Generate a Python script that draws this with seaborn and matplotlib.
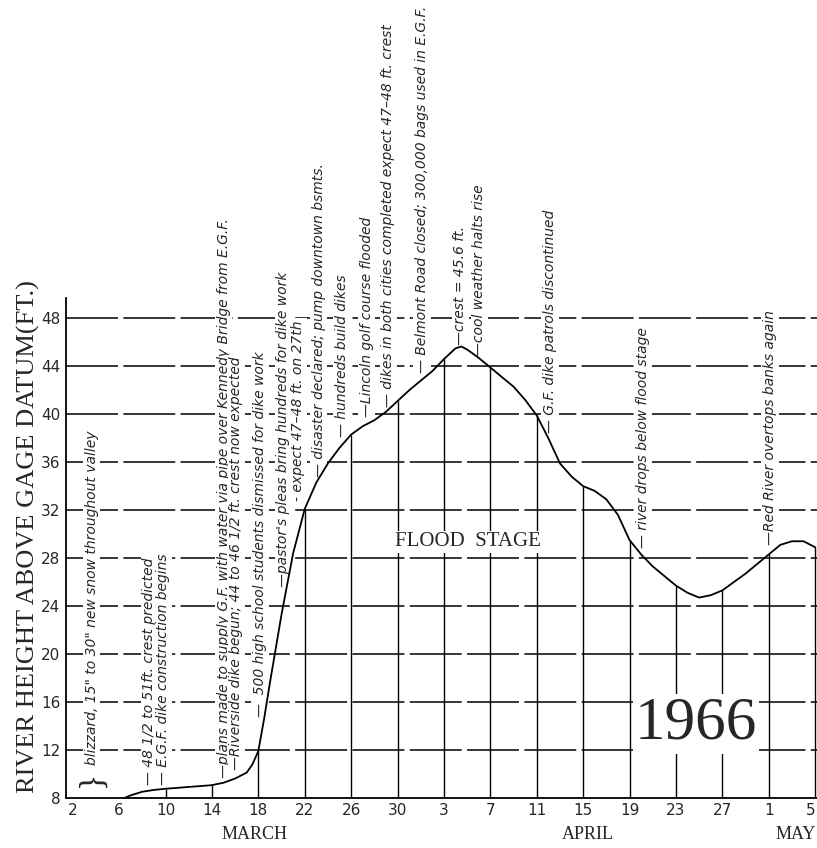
import matplotlib
matplotlib.use("Agg")
import matplotlib.pyplot as plt
import seaborn as sns
import pandas as pd

# river stage, days counted from March 1 (April 3 = 34, May 1 = 62)
days = [6.5, 7, 8, 9, 10, 11, 12, 13, 14, 15, 16, 17, 17.5, 18, 18.5, 19, 20, 21,
        22, 23, 24, 25, 26, 27, 28, 29, 30, 31, 32, 33, 34, 35, 35.5, 36, 37, 38,
        39, 40, 41, 42, 43, 44, 45, 46, 47, 48, 49, 50, 51, 52, 53, 54, 55, 56,
        57, 58, 59, 60, 61, 62, 63, 64, 65, 66]
stage = [8.0, 8.2, 8.5, 8.65, 8.75, 8.82, 8.9, 8.97, 9.05, 9.25, 9.6, 10.1, 10.8, 11.9,
         14.6, 17.6, 23.3, 28.4, 32.1, 34.3, 35.9, 37.2, 38.3, 39.0, 39.5, 40.2, 41.1,
         42.0, 42.8, 43.6, 44.6, 45.5, 45.65, 45.4, 44.7, 43.9, 43.1, 42.3, 41.2, 39.9,
         38.0, 35.9, 34.8, 34.0, 33.6, 32.9, 31.6, 29.5, 28.3, 27.3, 26.5, 25.7, 25.1,
         24.7, 24.9, 25.3, 26.0, 26.7, 27.5, 28.3, 29.1, 29.4, 29.4, 28.9]

tick_days = list(range(2, 67, 4))
tick_labels = ["2", "6", "10", "14", "18", "22", "26", "30", "3", "7", "11", "15",
               "19", "23", "27", "1", "5"]
y_ticks = list(range(8, 49, 4))
drop_days = list(range(10, 67, 4))

months = ["MARCH", "APRIL", "MAY"]
month_days = [17.7, 46.4, 64.3]

note_texts = [
    'blizzard, 15" to 30" new snow throughout valley',
    "\u2014 48 1/2 to 51ft. crest predicted",
    "\u2014 E.G.F. dike construction begins",
    "\u2014plans made to supply G.F. with water via pipe over Kennedy Bridge from E.G.F.",
    "\u2014Riverside dike begun; 44 to 46 1/2 ft. crest now expected",
    "\u2014  500 high school students dismissed for dike work",
    "\u2014pastor's pleas bring hundreds for dike work",
    "- expect 47\u201348 ft. on 27th",
    "\u2014 disaster declared; pump downtown bsmts.",
    "\u2014 hundreds build dikes",
    "\u2014Lincoln golf course flooded",
    "\u2014 dikes in both cities completed expect 47\u201348 ft. crest",
    "\u2014 Belmont Road closed; 300,000 bags used in E.G.F.",
    "\u2014crest = 45.6 ft.",
    "\u2014cool weather halts rise",
    "\u2014 G.F. dike patrols discontinued",
    "\u2014 river drops below flood stage",
    "\u2014Red River overtops banks again",
]
note_days = [3.64, 8.6, 9.8, 15.0, 16.1, 18.15, 20.15, 21.45, 23.2, 25.2, 27.35,
             29.2, 32.1, 35.4, 37.05, 43.15, 51.2, 62.1]
note_base = [10.7, 9.1, 9.1, 9.65, 10.3, 14.7, 25.6, 32.8, 34.8, 38.1, 39.8,
             40.6, 43.4, 45.8, 44.9, 38.4, 28.8, 29.1]

df = pd.DataFrame({"day": days, "ft": stage})
level = dict(zip(days, stage))

sns.set_style("white")
plt.rcParams["font.family"] = ["DejaVu Sans"]

fig = plt.figure(figsize=(8.17, 8.48), dpi=100)
ax = fig.add_axes([0.0808, 0.0593, 0.9192, 0.5893])
ax.set_xlim(1.42, 66.16)
ax.set_ylim(8, 49.7)

# grid lines (flood stage is the 28 ft line)
for y in y_ticks[1:]:
    ax.axhline(y, color="black", lw=1.1, ls=(0, (34, 3.5)), zorder=1)
ax.vlines(drop_days, 8, [level[d] for d in drop_days], color="black", lw=1.0, zorder=1.5)

sns.lineplot(data=df, x="day", y="ft", color="black", lw=1.3, estimator=None,
             sort=False, ax=ax, zorder=4)

box = dict(facecolor="white", edgecolor="none", pad=1.2)
for d, b, t in zip(note_days, note_base, note_texts):
    ax.text(d, b, t, rotation=90, ha="center", va="bottom", fontsize=10,
            style="italic", clip_on=False, bbox=box, zorder=3)
ax.text(3.64, 8.9, "}", rotation=90, ha="center", va="bottom", fontsize=24,
        family="Liberation Serif", zorder=3)

ax.text(36.1, 28.55, "FLOOD  STAGE", ha="center", va="bottom", fontsize=15,
        family="Liberation Serif", bbox=box, zorder=3)
ax.text(55.75, 14.15, "1966", ha="center", va="center", fontsize=44,
        family="Liberation Serif", bbox=dict(facecolor="white", edgecolor="none", pad=1.5),
        zorder=3)

for m, d in zip(months, month_days):
    ax.text(d, 4.9, m, ha="center", va="center", fontsize=13,
            family="Liberation Serif", clip_on=False)

ax.set_xticks(tick_days)
ax.set_xticklabels(tick_labels)
ax.set_yticks(y_ticks)
ax.tick_params(length=0, labelsize=11, pad=4)
ax.get_xticklabels()[-1].set_horizontalalignment("right")
ax.set_xlabel("")
ax.set_ylabel("")
fig.text(28 / 817, 1 - 537 / 848, "RIVER HEIGHT ABOVE GAGE DATUM(FT.)", rotation=90,
         ha="center", va="center", fontsize=19, family="Liberation Serif")

for s in ["top", "right"]:
    ax.spines[s].set_visible(False)
for s in ["left", "bottom"]:
    ax.spines[s].set_color("black")
    ax.spines[s].set_linewidth(1.3)

fig.savefig("out.png", dpi=100)
